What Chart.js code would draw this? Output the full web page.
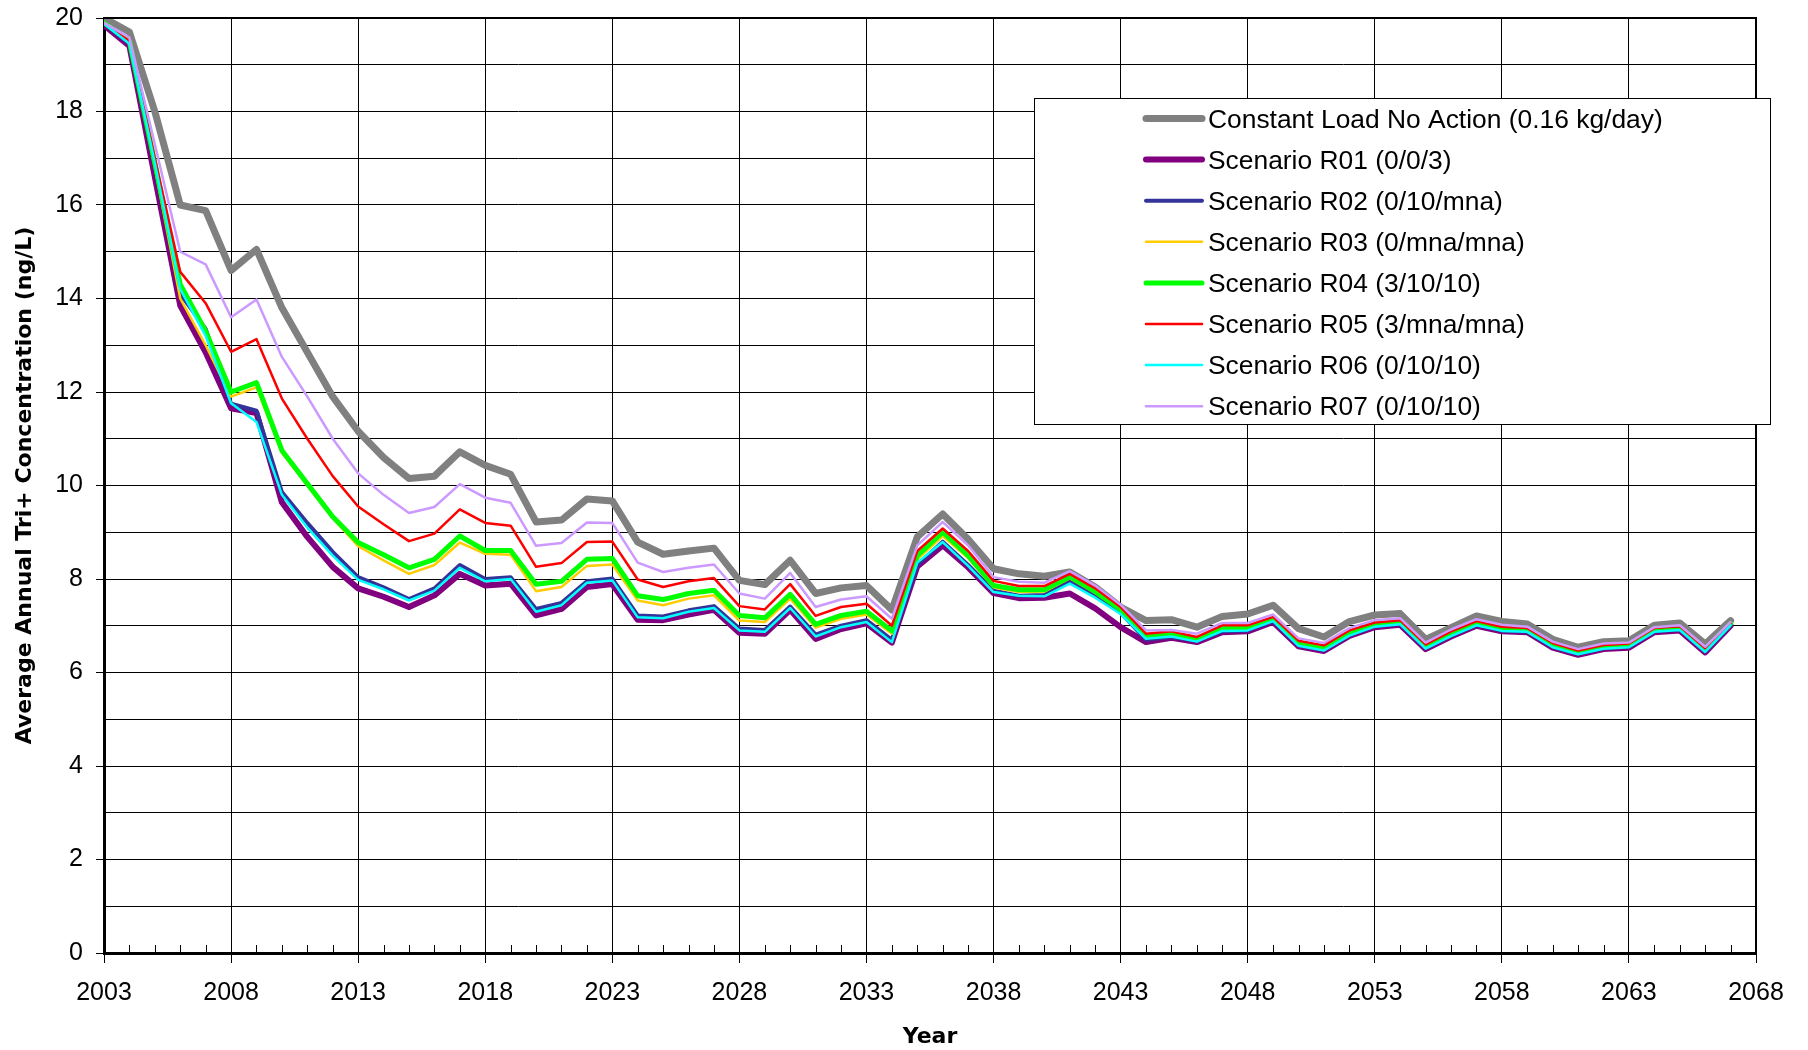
<!DOCTYPE html>
<html>
<head>
<meta charset="utf-8">
<title>Average Annual Tri+ Concentration</title>
<script src="https://cdn.jsdelivr.net/npm/chart.js@4.4.0/dist/chart.umd.min.js"></script>
<style>
  html, body { margin: 0; padding: 0; background: #ffffff; }
  #wrap { width: 1808px; height: 1050px; position: relative; }
</style>
</head>
<body>
<div id="wrap"><canvas id="chart" width="1808" height="1050"></canvas></div>
<script>
// Simulation years
const years = [
  2003, 2004, 2005, 2006, 2007, 2008, 2009, 2010, 2011, 2012,
  2013, 2014, 2015, 2016, 2017, 2018, 2019, 2020, 2021, 2022,
  2023, 2024, 2025, 2026, 2027, 2028, 2029, 2030, 2031, 2032,
  2033, 2034, 2035, 2036, 2037, 2038, 2039, 2040, 2041, 2042,
  2043, 2044, 2045, 2046, 2047, 2048, 2049, 2050, 2051, 2052,
  2053, 2054, 2055, 2056, 2057, 2058, 2059, 2060, 2061, 2062,
  2063, 2064, 2065, 2066, 2067
];

// Average annual Tri+ concentration (ng/L) per scenario
const noAction = [
  20.0, 19.7, 18.0, 16.0, 15.88, 14.6, 15.05, 13.8, 12.85, 11.9,
  11.16, 10.6, 10.15, 10.2, 10.72, 10.43, 10.24, 9.22, 9.26, 9.71,
  9.67, 8.79, 8.53, 8.6, 8.66, 7.97, 7.88, 8.4, 7.69, 7.81,
  7.86, 7.34, 8.9, 9.39, 8.85, 8.22, 8.11, 8.06, 8.15, 7.83,
  7.4, 7.11, 7.13, 6.97, 7.2, 7.25, 7.44, 6.94, 6.76, 7.09,
  7.23, 7.26, 6.71, 6.96, 7.21, 7.09, 7.04, 6.71, 6.54, 6.66,
  6.68, 7.01, 7.06, 6.61, 7.11
];
const r01 = [
  19.85, 19.4, 16.6, 13.85, 12.85, 11.65, 11.55, 9.64, 8.9, 8.26,
  7.8, 7.62, 7.4, 7.65, 8.11, 7.86, 7.9, 7.22, 7.36, 7.83,
  7.89, 7.13, 7.12, 7.24, 7.34, 6.85, 6.83, 7.34, 6.72, 6.93,
  7.05, 6.64, 8.27, 8.72, 8.25, 7.7, 7.59, 7.6, 7.69, 7.37,
  6.97, 6.65, 6.74, 6.65, 6.86, 6.88, 7.08, 6.56, 6.46, 6.78,
  6.97, 7.02, 6.5, 6.77, 7.0, 6.88, 6.86, 6.53, 6.38, 6.5,
  6.53, 6.86, 6.9, 6.43, 7.0
];
const r02 = [
  19.88, 19.45, 16.8, 14.1, 13.35, 11.75, 11.6, 9.86, 9.2, 8.58,
  8.04, 7.82, 7.57, 7.8, 8.3, 8.0, 8.04, 7.36, 7.49, 7.95,
  8.01, 7.22, 7.2, 7.33, 7.42, 6.94, 6.91, 7.41, 6.81, 7.0,
  7.12, 6.7, 8.3, 8.8, 8.3, 7.75, 7.64, 7.66, 7.95, 7.65,
  7.28, 6.7, 6.76, 6.68, 6.88, 6.9, 7.1, 6.58, 6.48, 6.8,
  6.99, 7.04, 6.52, 6.79, 7.02, 6.9, 6.87, 6.55, 6.4, 6.52,
  6.55, 6.88, 6.92, 6.45, 7.02
];
const r03 = [
  19.9, 19.5, 16.8, 14.0, 13.0, 11.9, 12.1, 10.7, 10.0, 9.3,
  8.7, 8.4, 8.11, 8.3, 8.78, 8.54, 8.52, 7.74, 7.83, 8.28,
  8.31, 7.54, 7.44, 7.58, 7.65, 7.11, 7.08, 7.58, 6.96, 7.15,
  7.24, 6.83, 8.42, 8.92, 8.45, 7.82, 7.72, 7.73, 8.02, 7.7,
  7.33, 6.76, 6.81, 6.7, 6.93, 6.94, 7.13, 6.62, 6.52, 6.84,
  7.02, 7.07, 6.56, 6.83, 7.05, 6.93, 6.9, 6.58, 6.43, 6.55,
  6.58, 6.91, 6.95, 6.48, 7.04
];
const r04 = [
  19.9, 19.5, 16.9, 14.3, 13.3, 12.0, 12.2, 10.75, 10.04, 9.33,
  8.78, 8.52, 8.24, 8.42, 8.92, 8.61, 8.61, 7.89, 7.95, 8.42,
  8.44, 7.64, 7.56, 7.69, 7.76, 7.22, 7.17, 7.67, 7.03, 7.22,
  7.31, 6.89, 8.5, 9.0, 8.5, 7.86, 7.77, 7.77, 8.05, 7.73,
  7.35, 6.78, 6.83, 6.72, 6.95, 6.96, 7.15, 6.64, 6.54, 6.86,
  7.04, 7.09, 6.58, 6.85, 7.07, 6.95, 6.92, 6.6, 6.45, 6.57,
  6.6, 6.93, 6.97, 6.5, 7.05
];
const r05 = [
  19.9, 19.5, 17.0, 14.57, 13.9, 12.86, 13.13, 11.86, 11.0, 10.2,
  9.55, 9.17, 8.81, 8.97, 9.49, 9.2, 9.14, 8.26, 8.34, 8.79,
  8.8, 7.99, 7.83, 7.95, 8.02, 7.42, 7.35, 7.89, 7.21, 7.4,
  7.47, 7.0, 8.6, 9.08, 8.6, 7.96, 7.85, 7.85, 8.11, 7.8,
  7.4, 6.83, 6.88, 6.76, 7.01, 7.01, 7.19, 6.68, 6.58, 6.9,
  7.07, 7.12, 6.6, 6.88, 7.1, 6.98, 6.95, 6.63, 6.47, 6.59,
  6.62, 6.95, 6.99, 6.52, 7.06
];
const r06 = [
  19.88, 19.45, 16.9, 14.2, 13.2, 11.76, 11.36, 9.8, 9.1, 8.5,
  7.98, 7.78, 7.54, 7.75, 8.24, 7.95, 8.0, 7.3, 7.44, 7.92,
  7.97, 7.18, 7.16, 7.3, 7.38, 6.9, 6.87, 7.38, 6.77, 6.97,
  7.08, 6.65, 8.35, 8.79, 8.28, 7.72, 7.64, 7.63, 7.9, 7.6,
  7.25, 6.72, 6.77, 6.66, 6.89, 6.9, 7.1, 6.57, 6.47, 6.79,
  6.98, 7.03, 6.51, 6.78, 7.01, 6.89, 6.87, 6.54, 6.39, 6.51,
  6.54, 6.87, 6.91, 6.44, 7.01
];
const r07 = [
  19.9, 19.58, 17.3, 15.0, 14.73, 13.6, 13.98, 12.75, 11.9, 11.0,
  10.26, 9.8, 9.41, 9.54, 10.03, 9.74, 9.63, 8.71, 8.77, 9.21,
  9.2, 8.35, 8.15, 8.24, 8.31, 7.69, 7.58, 8.13, 7.4, 7.56,
  7.63, 7.15, 8.72, 9.22, 8.72, 8.04, 7.94, 7.92, 8.17, 7.86,
  7.45, 6.9, 6.91, 6.83, 7.06, 7.06, 7.24, 6.73, 6.63, 6.95,
  7.12, 7.16, 6.64, 6.92, 7.14, 7.02, 6.98, 6.66, 6.5, 6.62,
  6.64, 6.97, 7.01, 6.55, 7.08
];

const seriesLabels = [
  'Constant Load No Action (0.16 kg/day)',
  'Scenario R01 (0/0/3)',
  'Scenario R02 (0/10/mna)',
  'Scenario R03 (0/mna/mna)',
  'Scenario R04 (3/10/10)',
  'Scenario R05 (3/mna/mna)',
  'Scenario R06 (0/10/10)',
  'Scenario R07 (0/10/10)'
];
const seriesValues = [noAction, r01, r02, r03, r04, r05, r06, r07];
const seriesColors = ['#808080', '#800080', '#333399', '#FFCC00', '#00FF00', '#FF0000', '#00FFFF', '#CC99FF'];
const seriesWidths = [7, 6, 4, 2.5, 5, 2.5, 2.5, 2.5];

const xTickStep = 5;
const xMin = 2003, xMax = 2068;

const datasets = seriesLabels.map((label, i) => ({
  label,
  data: years.map((yr, k) => ({ x: yr, y: seriesValues[i][k] })),
  borderColor: seriesColors[i],
  backgroundColor: seriesColors[i],
  borderWidth: seriesWidths[i],
  borderJoinStyle: 'round',
  borderCapStyle: 'round',
  pointRadius: 0,
  tension: 0,
  fill: false,
  // later series are painted over earlier ones
  order: seriesLabels.length - i
}));

const FONT = '"Liberation Sans", Arial, sans-serif';
const TITLE_FONT = '"DejaVu Sans", Verdana, sans-serif';

// Frame, inner minor ticks on the year axis, and the boxed legend
const decorations = {
  id: 'decorations',
  afterDraw(chart) {
    const { ctx, chartArea: a, scales } = chart;
    ctx.save();
    // frame on top and right
    ctx.strokeStyle = '#000';
    ctx.lineWidth = 2;
    ctx.beginPath();
    ctx.moveTo(a.left, a.top);
    ctx.lineTo(a.right, a.top);
    ctx.lineTo(a.right, a.bottom);
    ctx.stroke();

    // yearly minor ticks pointing into the plot
    ctx.lineWidth = 1;
    ctx.beginPath();
    for (let yr = xMin + 1; yr < xMax; yr++) {
      if ((yr - xMin) % xTickStep === 0) continue;
      const px = Math.round(scales.x.getPixelForValue(yr)) + 0.5;
      ctx.moveTo(px, a.bottom);
      ctx.lineTo(px, a.bottom - 8);
    }
    ctx.stroke();

    // legend box
    const box = { left: 1034, top: 98, right: 1771, bottom: 425 };
    ctx.fillStyle = '#fff';
    ctx.fillRect(box.left, box.top, box.right - box.left, box.bottom - box.top);
    ctx.strokeStyle = '#000';
    ctx.lineWidth = 1;
    ctx.strokeRect(box.left + 0.5, box.top + 0.5, box.right - box.left - 1, box.bottom - box.top - 1);

    ctx.font = '26.4px ' + FONT;
    ctx.textBaseline = 'middle';
    ctx.textAlign = 'left';
    chart.data.datasets.forEach((ds, i) => {
      const cy = 120.5 + i * 41.1;
      ctx.strokeStyle = ds.borderColor;
      ctx.lineWidth = ds.borderWidth;
      ctx.lineCap = 'round';
      ctx.beginPath();
      ctx.moveTo(1146, cy - 2);
      ctx.lineTo(1202, cy - 2);
      ctx.stroke();
      ctx.fillStyle = '#000';
      ctx.fillText(ds.label, 1208, cy);
    });
    ctx.restore();
  }
};

new Chart(document.getElementById('chart'), {
  type: 'line',
  data: { datasets },
  options: {
    responsive: false,
    animation: false,
    devicePixelRatio: 1,
    layout: { padding: { left: 0, top: 18, right: 52, bottom: 0 } },
    plugins: {
      legend: { display: false },
      tooltip: { enabled: false }
    },
    scales: {
      x: {
        type: 'linear',
        min: xMin,
        max: xMax,
        afterFit: s => { s.height = 97; s.paddingLeft = 0; s.paddingRight = 0; },
        ticks: {
          stepSize: 1,
          autoSkip: false,
          maxRotation: 0,
          padding: 15,
          color: '#000',
          font: { family: FONT, size: 25 },
          callback: v => ((v - xMin) % xTickStep === 0 ? String(v) : '')
        },
        grid: {
          color: c => (c.tick && (c.tick.value - xMin) % xTickStep === 0 ? '#000' : 'rgba(0,0,0,0)'),
          tickColor: c => (c.tick && (c.tick.value - xMin) % xTickStep === 0 ? '#000' : 'rgba(0,0,0,0)'),
          lineWidth: 1,
          tickLength: 10
        },
        border: { display: true, color: '#000', width: 3 },
        title: {
          display: true,
          text: 'Year',
          color: '#000',
          font: { family: TITLE_FONT, size: 22, weight: 'bold' },
          padding: { top: 0, bottom: 0 }
        }
      },
      y: {
        min: 0,
        max: 20,
        afterFit: s => { s.width = 104; s.paddingTop = 0; s.paddingBottom = 0; },
        ticks: {
          stepSize: 1,
          autoSkip: false,
          padding: 13,
          color: '#000',
          font: { family: FONT, size: 25 },
          callback: v => (v % 2 === 0 ? String(v) : '')
        },
        grid: {
          color: '#000',
          tickColor: c => (c.tick && c.tick.value % 2 === 0 ? '#000' : 'rgba(0,0,0,0)'),
          lineWidth: 1,
          tickLength: 8
        },
        border: { display: true, color: '#000', width: 3 },
        title: {
          display: true,
          text: 'Average Annual Tri+ Concentration (ng/L)',
          color: '#000',
          font: { family: TITLE_FONT, size: 22, weight: 'bold' },
          padding: { top: 12, bottom: 0 }
        }
      }
    }
  },
  plugins: [decorations]
});
</script>
</body>
</html>
